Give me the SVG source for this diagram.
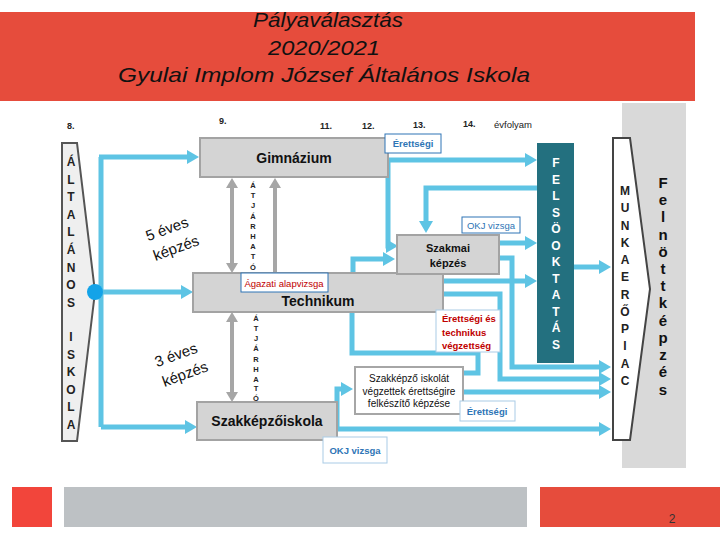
<svg xmlns="http://www.w3.org/2000/svg" width="720" height="540" viewBox="0 0 720 540">
<defs>
<style>
.t{font-family:"Liberation Sans",Arial,sans-serif}
.b{font-weight:bold}
.blue{fill:none;stroke:#5ec4e4;stroke-width:5}
.arr{marker-end:url(#ab)}
.gray{fill:none;stroke:#a6a6a6;stroke-width:4;marker-end:url(#ag)}
.dbl{marker-start:url(#ag)}
.box{fill:#d4d4d4;stroke:#a3a3a3;stroke-width:2}
.lbl{fill:#fff;stroke:#2e75b6;stroke-width:1}
.lbl2{fill:#fff;stroke:#a9cbe6;stroke-width:1}
.yr{font-size:9px;font-weight:bold;fill:#222}
.vl{font-size:12px;font-weight:bold;fill:#222;text-anchor:middle}
.at{font-size:7.5px;font-weight:bold;fill:#222;text-anchor:middle}
.wl{font-size:12px;font-weight:bold;fill:#fff;text-anchor:middle}
.red{fill:#c00000}
.tl{fill:#2e75b6}
</style>
<marker id="ab" markerUnits="userSpaceOnUse" markerWidth="12" markerHeight="14" viewBox="0 0 12 14" refX="4" refY="7" orient="auto-start-reverse"><path d="M0,0 L12,7 L0,14 z" fill="#5ec4e4"/></marker>
<marker id="ag" markerUnits="userSpaceOnUse" markerWidth="10" markerHeight="12" viewBox="0 0 10 12" refX="3" refY="6" orient="auto-start-reverse"><path d="M0,0 L10,6 L0,12 z" fill="#a6a6a6"/></marker>
</defs>
<rect width="720" height="540" fill="#fff"/>

<g id="header">
<rect x="0" y="12" width="695" height="89" fill="#e64c3c"/>
<g class="t" font-style="italic" font-size="21" fill="#111" text-anchor="middle">
<text x="328" y="27" textLength="150" lengthAdjust="spacingAndGlyphs">Pályaválasztás</text>
<text x="324" y="55" textLength="112" lengthAdjust="spacingAndGlyphs">2020/2021</text>
<text x="324" y="82" textLength="412" lengthAdjust="spacingAndGlyphs">Gyulai Implom József Általános Iskola</text>
</g>
</g>

<g id="footer">
<rect x="12" y="487" width="40" height="40" fill="#f2453b"/>
<rect x="64" y="487" width="463" height="40" fill="#bdc1c4"/>
<rect x="540" y="487" width="180" height="40" fill="#e64c3c"/>
<text class="t" x="672" y="523" font-size="12" fill="#333" text-anchor="middle">2</text>
</g>

<rect id="felnott-bg" x="622" y="103" width="64" height="365" fill="#d9d9d9"/>

<g id="years" class="t">
<text class="yr" x="67" y="129">8.</text>
<text class="yr" x="219" y="124">9.</text>
<text class="yr" x="320" y="129">11.</text>
<text class="yr" x="362" y="129">12.</text>
<text class="yr" x="413" y="128">13.</text>
<text class="yr" x="463" y="127">14.</text>
<text x="494" y="128" font-size="9.5" fill="#222">évfolyam</text>
</g>

<g id="connectors">
<path class="blue" d="M101,157 V427"/>
<path class="blue arr" d="M99,157 H191"/>
<path class="blue arr" d="M101,292 H185"/>
<path class="blue arr" d="M101,427 H189"/>
<path class="blue arr" d="M388,160 H529"/>
<path class="blue arr" d="M388,158 V246 H390"/>
<path class="blue arr" d="M537,188 H426 V225"/>
<path class="blue arr" d="M353,273 V259 H387"/>
<path class="blue arr" d="M499,243 H529"/>
<path class="blue arr" d="M443,281 H529"/>
<path class="blue arr" d="M499,258 H512 V367 H603"/>
<path class="blue arr" d="M443,294 H500 V379 H603"/>
<path class="blue" d="M352,312 V353 H478 V373 H463"/>
<path class="blue arr" d="M463,392 H603"/>
<path class="blue arr" d="M337,429 H603"/>
<path class="blue arr" d="M337,429 V389 H345"/>
<path class="blue arr" d="M574,267 H603"/>
<path class="gray dbl" d="M232,185 V266"/>
<path class="gray" d="M275,273 V185"/>
<path class="gray dbl" d="M232,319 V395"/>
</g>

<g id="altalanos-iskola">
<path d="M62,143 H77 L95,292 L77,441 H62 Z" fill="#efefef" stroke="#555" stroke-width="2"/>
<g class="t">
<text class="vl" x="71" y="166">Á</text>
<text class="vl" x="71" y="184">L</text>
<text class="vl" x="71" y="201">T</text>
<text class="vl" x="71" y="219">A</text>
<text class="vl" x="71" y="236">L</text>
<text class="vl" x="71" y="254">Á</text>
<text class="vl" x="71" y="272">N</text>
<text class="vl" x="71" y="289">O</text>
<text class="vl" x="71" y="307">S</text>
<text class="vl" x="71" y="341">I</text>
<text class="vl" x="71" y="359">S</text>
<text class="vl" x="71" y="376">K</text>
<text class="vl" x="71" y="394">O</text>
<text class="vl" x="71" y="411">L</text>
<text class="vl" x="71" y="429">A</text>
</g>
<circle cx="95" cy="292" r="8" fill="#13a3e8"/>
</g>

<g id="kepzes5" class="t" font-size="15" fill="#111" text-anchor="middle" transform="translate(167,229) rotate(-20)">
<text x="0" y="5">5 éves</text>
<text x="2" y="26">képzés</text>
</g>
<g id="kepzes3" class="t" font-size="15" fill="#111" text-anchor="middle" transform="translate(176,355) rotate(-20)">
<text x="0" y="5">3 éves</text>
<text x="2" y="26">képzés</text>
</g>

<g id="gimnazium">
<rect class="box" x="200" y="138" width="188" height="39"/>
<text class="t b" x="294" y="163" font-size="14" text-anchor="middle" fill="#111">Gimnázium</text>
</g>

<g id="atjarhato1" class="t">
<text class="at" x="253" y="188">Á</text>
<text class="at" x="253" y="198">T</text>
<text class="at" x="253" y="208">J</text>
<text class="at" x="253" y="219">Á</text>
<text class="at" x="253" y="229">R</text>
<text class="at" x="253" y="239">H</text>
<text class="at" x="253" y="249">A</text>
<text class="at" x="253" y="259">T</text>
<text class="at" x="253" y="270">Ó</text>
</g>

<g id="technikum">
<rect class="box" x="193" y="273" width="250" height="39"/>
<text class="t b" x="318" y="306" font-size="14" text-anchor="middle" fill="#111">Technikum</text>
</g>

<g id="agazati">
<rect class="lbl" x="241" y="273" width="87" height="19"/>
<text class="t red" x="284" y="287" font-size="9.5" text-anchor="middle">Ágazati alapvizsga</text>
</g>

<g id="szakmai">
<rect class="box" x="397" y="235" width="102" height="39"/>
<text class="t b" x="448" y="252" font-size="11" text-anchor="middle" fill="#111">Szakmai</text>
<text class="t b" x="448" y="267" font-size="11" text-anchor="middle" fill="#111">képzés</text>
</g>

<g id="atjarhato2" class="t">
<text class="at" x="256" y="321">Á</text>
<text class="at" x="256" y="331">T</text>
<text class="at" x="256" y="341">J</text>
<text class="at" x="256" y="351">Á</text>
<text class="at" x="256" y="362">R</text>
<text class="at" x="256" y="372">H</text>
<text class="at" x="256" y="382">A</text>
<text class="at" x="256" y="391">T</text>
<text class="at" x="256" y="401">Ó</text>
</g>

<g id="szakkepzoiskola">
<rect class="box" x="197" y="402" width="140" height="38"/>
<text class="t b" x="267" y="426" font-size="14" text-anchor="middle" fill="#111">Szakképzőiskola</text>
</g>

<g id="erettsegi-top">
<rect class="lbl" x="385" y="134" width="56" height="19"/>
<text class="t b tl" x="413" y="147" font-size="9.5" text-anchor="middle">Érettségi</text>
</g>

<g id="okj-top">
<rect class="lbl" x="462" y="217" width="58" height="16"/>
<text class="t tl" x="491" y="229" font-size="9.5" text-anchor="middle">OKJ vizsga</text>
</g>

<g id="erettsegi-technikus">
<rect class="lbl2" x="436" y="310" width="64" height="42"/>
<g class="t b red" font-size="9.5">
<text x="442" y="322">Érettségi és</text>
<text x="442" y="336">technikus</text>
<text x="442" y="349">végzettség</text>
</g>
</g>

<g id="szakkepzo-erettsegi">
<rect x="355" y="367" width="108" height="47" fill="#fff" stroke="#a6a6a6" stroke-width="2"/>
<g class="t" font-size="10" fill="#111" text-anchor="middle">
<text x="409" y="382">Szakképző iskolát</text>
<text x="409" y="395">végzettek érettségire</text>
<text x="409" y="407">felkészítő képzése</text>
</g>
</g>

<g id="erettsegi-bottom">
<rect class="lbl2" x="460" y="401" width="55" height="20"/>
<text class="t b tl" x="487" y="415" font-size="9.5" text-anchor="middle">Érettségi</text>
</g>

<g id="okj-bottom">
<rect class="lbl2" x="323" y="437" width="64" height="26"/>
<text class="t b tl" x="355" y="454" font-size="9.5" text-anchor="middle">OKJ vizsga</text>
</g>

<g id="felsooktatas">
<rect x="537" y="143" width="37" height="220" fill="#23707f"/>
<g class="t">
<text class="wl" x="556" y="167">F</text>
<text class="wl" x="556" y="184">E</text>
<text class="wl" x="556" y="200">L</text>
<text class="wl" x="556" y="217">S</text>
<text class="wl" x="556" y="233">Ö</text>
<text class="wl" x="556" y="250">O</text>
<text class="wl" x="556" y="266">K</text>
<text class="wl" x="556" y="283">T</text>
<text class="wl" x="556" y="299">A</text>
<text class="wl" x="556" y="316">T</text>
<text class="wl" x="556" y="332">Á</text>
<text class="wl" x="556" y="349">S</text>
</g>
</g>

<g id="munkaeropiac">
<path d="M613,138 H630 L650,289 L630,440 H613 Z" fill="#fff" stroke="#444" stroke-width="2"/>
<g class="t">
<text class="vl" x="625" y="195">M</text>
<text class="vl" x="625" y="212">U</text>
<text class="vl" x="625" y="230">N</text>
<text class="vl" x="625" y="247">K</text>
<text class="vl" x="625" y="264">A</text>
<text class="vl" x="625" y="281">E</text>
<text class="vl" x="625" y="299">R</text>
<text class="vl" x="625" y="316">Ő</text>
<text class="vl" x="625" y="333">P</text>
<text class="vl" x="625" y="350">I</text>
<text class="vl" x="625" y="368">A</text>
<text class="vl" x="625" y="385">C</text>
</g>
</g>

<g id="felnottkepzes" class="t" font-size="15" font-weight="bold" fill="#111" text-anchor="middle">
<text x="663" y="188">F</text>
<text x="663" y="205">e</text>
<text x="663" y="222">l</text>
<text x="663" y="240">n</text>
<text x="663" y="257">ö</text>
<text x="663" y="274">t</text>
<text x="663" y="291">t</text>
<text x="663" y="308">k</text>
<text x="663" y="326">é</text>
<text x="663" y="343">p</text>
<text x="663" y="360">z</text>
<text x="663" y="377">é</text>
<text x="663" y="395">s</text>
</g>
</svg>
